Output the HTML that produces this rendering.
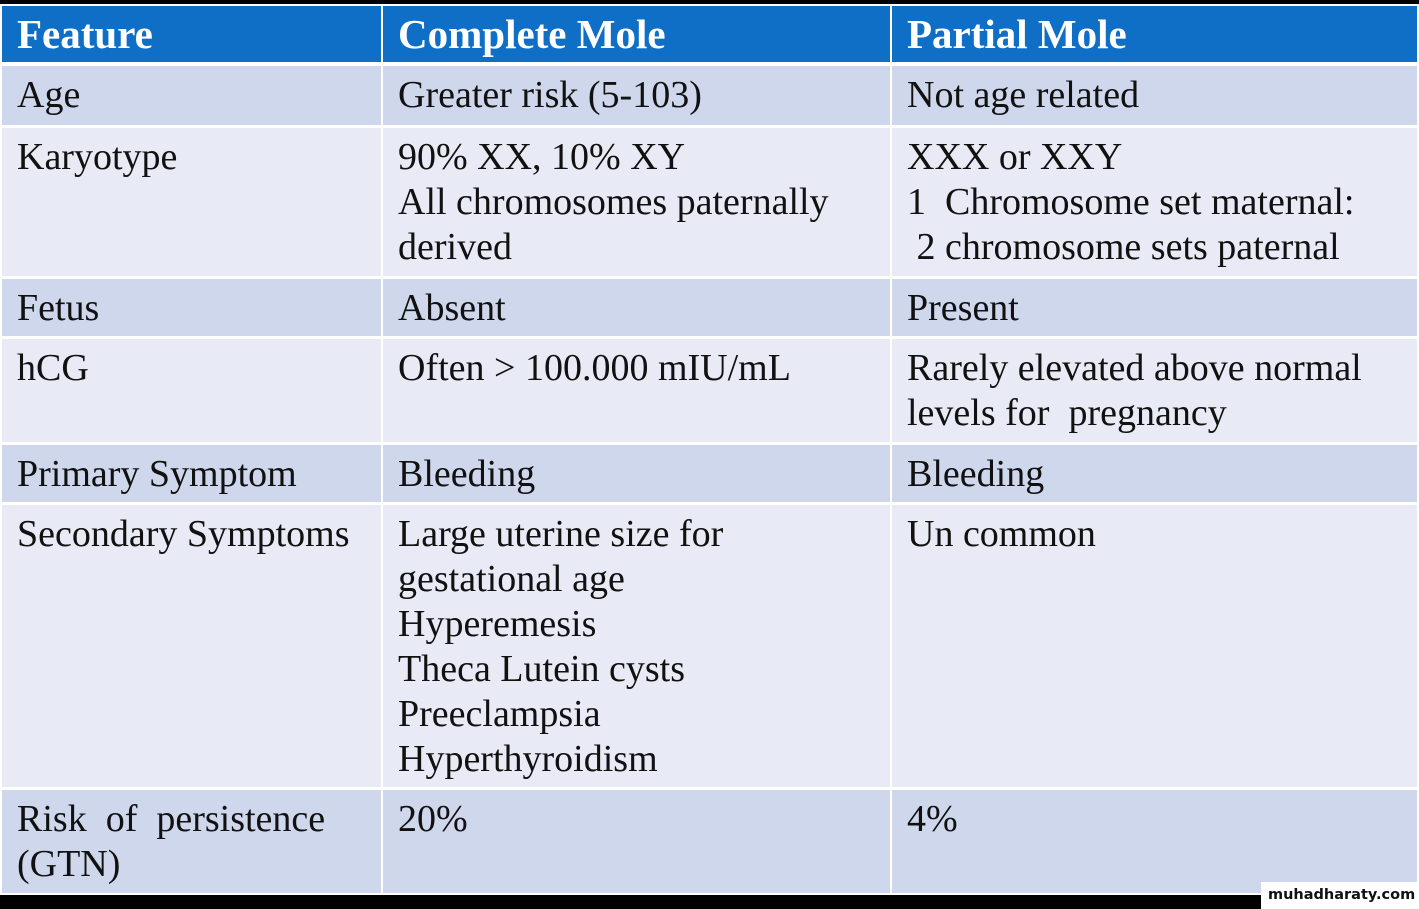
<!DOCTYPE html>
<html><head><meta charset="utf-8"><style>
body{margin:0;width:1419px;height:909px;background:#fff;position:relative;overflow:hidden;font-family:"Liberation Serif",serif;}
.c{position:absolute;box-sizing:border-box;padding:7px 0 0 15px;font-size:38px;line-height:45px;color:#111;}
.h{background:#0F6FC6;color:#fff;font-weight:bold;padding-top:6px;font-size:41px;}
.o{background:#CFD7EC}.e{background:#E8EBF5}
</style></head><body>
<div style="position:absolute;left:0;top:0;width:1419px;height:4px;background:#000"></div>
<div id="t"></div>
<div style="position:absolute;left:0;top:895px;width:1419px;height:14px;background:#000"></div>
<div style="position:absolute;left:1261px;top:882px;width:158px;height:27px;background:#fff;font-family:'DejaVu Sans',sans-serif;font-weight:bold;font-size:14.5px;line-height:27px;padding-left:7px;box-sizing:border-box;color:#111;white-space:nowrap">muhadharaty.com</div>
<script>
const cols=[[2,381],[383,890],[892,1417]];
const rows=[[6,62],[66,125],[128,276],[279,336],[339,442],[445,502],[505,787],[790,893]];
const cells=[
["Feature","Complete Mole","Partial Mole"],
["Age","Greater risk (5-103)","Not age related"],
["Karyotype","90% XX, 10% XY<br>All chromosomes paternally<br>derived","XXX or XXY<br>1&nbsp; Chromosome set maternal:<br>&nbsp;2 chromosome sets paternal"],
["Fetus","Absent","Present"],
["hCG","Often &gt; 100.000 mIU/mL","Rarely elevated above normal<br>levels for&nbsp; pregnancy"],
["Primary Symptom","Bleeding","Bleeding"],
["Secondary Symptoms","Large uterine size for<br>gestational age<br>Hyperemesis<br>Theca Lutein cysts<br>Preeclampsia<br>Hyperthyroidism","Un common"],
["Risk&nbsp; of&nbsp; persistence<br>(GTN)","20%","4%"]];
const names=["feature","complete-mole","partial-mole"];
const t=document.getElementById('t');
rows.forEach((r,i)=>cols.forEach((c,j)=>{
 const d=document.createElement('div');
 d.className='c '+(i==0?'h':(i%2?'o':'e'));
 d.style.left=c[0]+'px';d.style.top=r[0]+'px';d.style.width=(c[1]-c[0])+'px';d.style.height=(r[1]-r[0])+'px';
 d.innerHTML=cells[i][j];
 
 
 t.appendChild(d);
}));
</script>
</body></html>
